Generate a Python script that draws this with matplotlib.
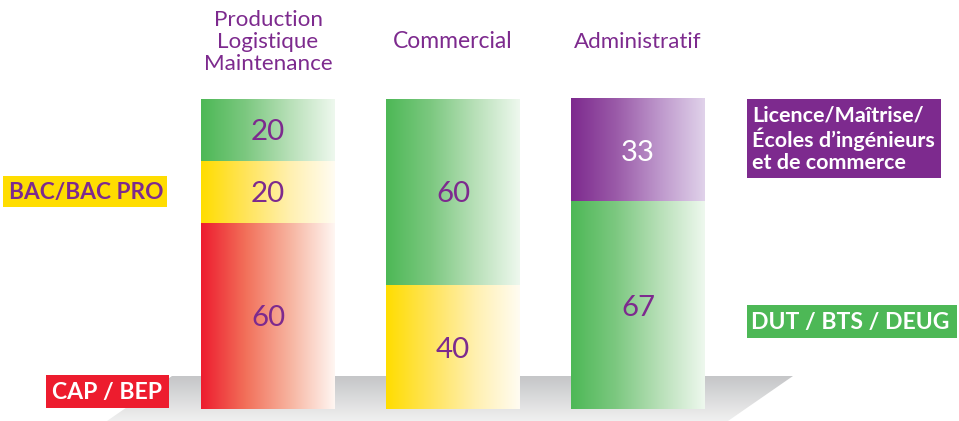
import matplotlib
matplotlib.use("Agg")
import matplotlib.pyplot as plt
import numpy as np
from matplotlib import font_manager
from matplotlib.patches import Polygon, Rectangle
from matplotlib.colors import to_rgb, LinearSegmentedColormap

categories = ["Production\nLogistique\nMaintenance", "Commercial", "Administratif"]
levels = ["CAP / BEP", "BAC/BAC PRO", "DUT / BTS / DEUG",
          "Licence/Maîtrise/\nÉcoles d\u2019ingénieurs\net de commerce"]
# values per category, bottom to top: (level index, value)
stacks = [
    [(0, 60), (1, 20), (2, 20)],
    [(1, 40), (2, 60)],
    [(2, 67), (3, 33)],
]
level_colors = ["#ED1C2E", "#FFDD00", "#4DB856", "#7D2A8E"]
# gradient stops (left -> right) for each level
level_grads = [
    ["#ED1C2E", "#F2705A", "#F7B4A0", "#FFF6F2"],
    ["#FFDD00", "#FFE45A", "#FFF0B0", "#FFFCF2"],
    ["#4DB856", "#7CC880", "#B8E0B8", "#EEF8EE"],
    ["#7D2A8E", "#9A5AA8", "#BE98CC", "#E0D2EA"],
]
value_colors = [None, None, None, "white"]
purple_text = "#7D2A8E"

names = {f.name for f in font_manager.fontManager.ttflist}
regular = "Lato" if "Lato" in names else "DejaVu Sans"

W, H = 959, 421
fig = plt.figure(figsize=(W / 100, H / 100), dpi=100)
ax = fig.add_axes([0, 0, 1, 1])
ax.axis("off")

ypx = 3.1
def px_to_data(px, py):
    return (px - 268) / 185.0, (409 - py) / ypx

x0, y0 = px_to_data(0, H)
x1, y1 = px_to_data(W, 0)
ax.set_xlim(x0, x1)
ax.set_ylim(y0, y1)
renderer = fig.canvas.get_renderer()

def fit(t, target_w):
    bb = t.get_window_extent(renderer=renderer)
    t.set_fontsize(t.get_fontsize() * target_w / bb.width)
    return t

# floor (gray parallelogram with vertical gradient)
floor_px = [(172, 376), (793, 376), (728, 421), (107, 421)]
floor = [px_to_data(*p) for p in floor_px]
poly = Polygon(floor, closed=True, facecolor="none", edgecolor="none")
ax.add_patch(poly)
grad = np.linspace(0, 1, 64)[:, None]
top_c = np.array(to_rgb("#c5c6c8"))
bot_c = np.array(to_rgb("#f0f0f0"))
img = top_c[None, None, :] * (1 - grad[..., None]) + bot_c[None, None, :] * grad[..., None]
im = ax.imshow(img, extent=[floor[3][0], floor[1][0], floor[2][1], floor[0][1]], origin="upper",
               aspect="auto", zorder=1, interpolation="bilinear")
im.set_clip_path(poly)

bar_w = 134 / 185.0
gradient_row = np.linspace(0, 1, 256)[None, :]

for i, stack in enumerate(stacks):
    bottom = 0
    for lvl, val in stack:
        cmap = LinearSegmentedColormap.from_list(f"g{lvl}", level_grads[lvl])
        ax.imshow(gradient_row, cmap=cmap, extent=[i - bar_w / 2, i + bar_w / 2, bottom, bottom + val],
                  aspect="auto", zorder=2, interpolation="bilinear")
        t = ax.text(i, bottom + val / 2, str(val), ha="center", va="center_baseline", fontsize=22,
                    color=value_colors[lvl] or purple_text, family=regular, zorder=3)
        fit(t, 34)
        bottom += val

cat_y = [42, 42, 42]
cat_w = [129, 120, 128]
for i, c in enumerate(categories):
    t = ax.text(i, px_to_data(0, cat_y[i])[1], c, ha="center", va="center",
                fontsize=16, color=purple_text, family=regular, linespacing=1.13, zorder=3)
    fit(t, cat_w[i])

ax.set_xlim(x0, x1)
ax.set_ylim(y0, y1)

def boxlabel(box, tx, text, fc, tc, tw, ls=1.0):
    (bx0, by0, bx1, by1) = box
    xa, ya = px_to_data(bx0, by1)
    xb, yb = px_to_data(bx1, by0)
    ax.add_patch(Rectangle((xa, ya), xb - xa, yb - ya, facecolor=fc, edgecolor="none", zorder=4))
    x, y = px_to_data(tx, (by0 + by1) / 2 + 1)
    t = ax.text(x, y, text, ha="left", va="center", fontsize=15, color=tc, family=regular,
                fontweight="bold", linespacing=ls, zorder=5)
    fit(t, tw)

boxlabel((3, 176, 167, 207), 9, levels[1], level_colors[1], purple_text, 154)
boxlabel((46, 375, 169, 408), 52, levels[0], level_colors[0], "white", 110)
boxlabel((747, 99, 941, 178), 752, levels[3], level_colors[3], "white", 183, ls=1.1)
boxlabel((747, 305, 957, 338), 751, levels[2], level_colors[2], "white", 198)

fig.savefig("out.png", dpi=100)
